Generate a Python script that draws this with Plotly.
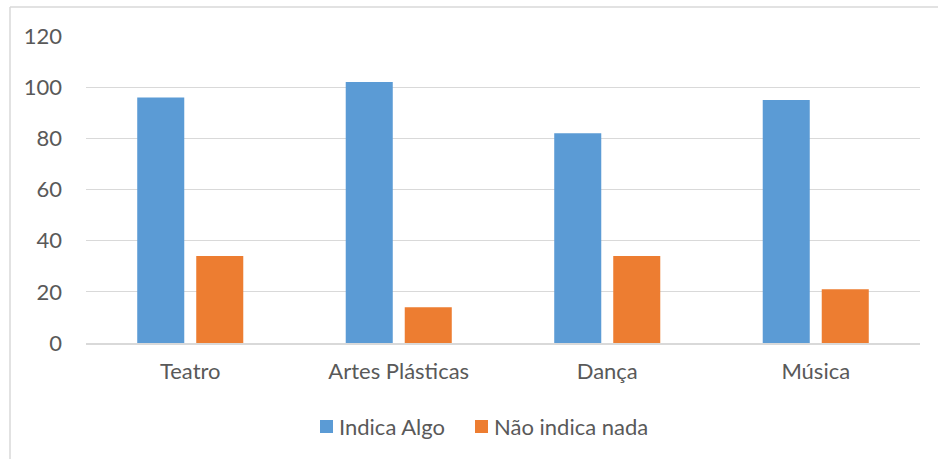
import plotly.graph_objects as go

# Categories and series values
categories = ["Teatro", "Artes Plásticas", "Dança", "Música"]
indica_algo = [96, 102, 82, 95]
nao_indica_nada = [34, 14, 34, 21]
y_ticks = [0, 20, 40, 60, 80, 100, 120]

series_names = ["Indica Algo", "Não indica nada"]
series_colors = ["#5B9BD5", "#ED7D31"]

W, H = 938, 459
ML, MR, MT, MB = 86, 18, 36, 116
PW, PH = W - ML - MR, H - MT - MB

FONT = "Lato, Open Sans, sans-serif"
FS = 22
TXT = "#595959"
GRID = "#D9D9D9"

fig = go.Figure()
for name, vals, col in zip(series_names, [indica_algo, nao_indica_nada], series_colors):
    fig.add_trace(go.Bar(name=name, x=categories, y=vals,
                         marker=dict(color=col, line=dict(width=0))))


def px_x(p):
    return (p - ML) / PW


def px_y(p):
    return (H - MB - p) / PH


# Outer chart frame (left and top edges visible)
fig.add_shape(type="line", xref="paper", yref="paper",
              x0=px_x(10), x1=px_x(10), y0=px_y(7), y1=px_y(470),
              line=dict(color=GRID, width=1.5))
fig.add_shape(type="line", xref="paper", yref="paper",
              x0=px_x(10), x1=px_x(950), y0=px_y(7), y1=px_y(7),
              line=dict(color=GRID, width=1.5))

# Legend below the plot: colour squares followed by series names
legend_items = [(320, 338), (475, 493)]
for (sq_x, tx_x), name, col in zip(legend_items, series_names, series_colors):
    fig.add_shape(type="rect", xref="paper", yref="paper",
                  x0=px_x(sq_x), x1=px_x(sq_x + 13),
                  y0=px_y(433), y1=px_y(420),
                  fillcolor=col, line=dict(width=0))
    fig.add_annotation(xref="paper", yref="paper", x=px_x(tx_x), y=px_y(426),
                       xanchor="left", yanchor="middle", text=name,
                       showarrow=False, borderpad=0,
                       font=dict(family=FONT, size=FS, color=TXT))

fig.update_layout(
    width=W, height=H,
    margin=dict(l=ML, r=MR, t=MT, b=MB),
    paper_bgcolor="white", plot_bgcolor="white",
    barmode="group", bargap=0.434, bargroupgap=0.203,
    font=dict(family=FONT, size=FS, color=TXT),
    showlegend=False,
    xaxis=dict(showgrid=False, showline=True, linecolor=GRID, linewidth=1.5,
               ticks="", ticklabelstandoff=8,
               tickfont=dict(family=FONT, size=FS, color=TXT)),
    yaxis=dict(range=[0, 120], tickvals=y_ticks, showgrid=True,
               gridcolor=GRID, gridwidth=1.3, zeroline=False, showline=False,
               ticks="", ticklabelstandoff=23,
               tickfont=dict(family=FONT, size=FS, color=TXT)),
)

fig.write_html("out.html")
